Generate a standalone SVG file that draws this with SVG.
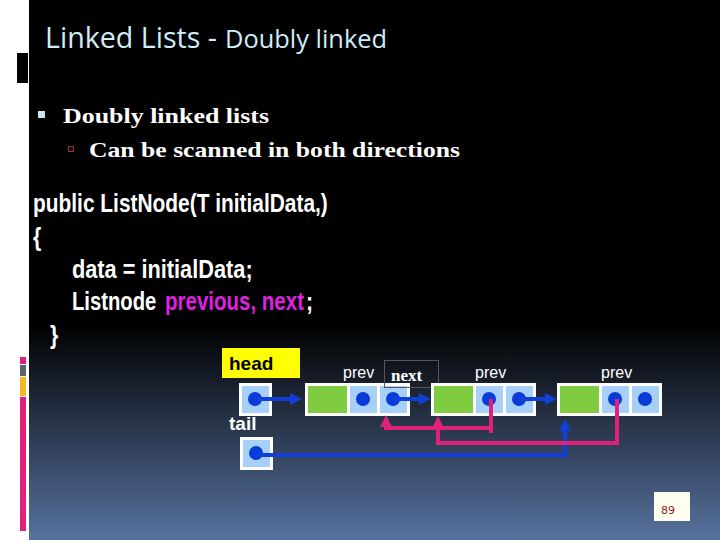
<svg xmlns="http://www.w3.org/2000/svg" width="720" height="540" viewBox="0 0 720 540">
<defs>
<linearGradient id="bg" x1="0" y1="0" x2="0" y2="1">
<stop offset="0" stop-color="#000"/>
<stop offset="0.6" stop-color="#000"/>
<stop offset="1" stop-color="#57729f"/>
</linearGradient>
<marker id="ab" viewBox="0 0 12 12" refX="3" refY="6" markerWidth="12" markerHeight="12" markerUnits="userSpaceOnUse" orient="auto"><path d="M0,0 L12,6 L0,12z" fill="#1040d8"/></marker>
<marker id="ap" viewBox="0 0 12 12" refX="3" refY="6" markerWidth="12" markerHeight="12" markerUnits="userSpaceOnUse" orient="auto"><path d="M0,0 L12,6 L0,12z" fill="#e0207a"/></marker>
</defs>
<style>
.frame{fill:#fff}
.green{fill:#80cc40}
.cell{fill:#a6d0f8}
.dot{fill:#0a3ad8}
.blue{stroke:#1040d8;stroke-width:4;fill:none}
.pink{stroke:#e0207a;stroke-width:4;fill:none}
.lbl{font-family:"Liberation Sans",Arial,sans-serif;fill:#fff}
.code{font-family:"Liberation Sans",Arial,sans-serif;font-weight:bold;font-size:25px;fill:#fff}
</style>
<rect x="0" y="0" width="720" height="540" fill="#fff"/>
<rect x="29" y="0" width="691" height="540" fill="url(#bg)"/>
<rect x="17" y="53" width="11" height="30" fill="#000"/>
<rect x="20" y="357" width="6" height="7" fill="#e0207a"/>
<rect x="20" y="365" width="6" height="11" fill="#5a6470"/>
<rect x="20" y="377" width="6" height="19" fill="#f5b820"/>
<rect x="20" y="397" width="6" height="134" fill="#e0207a"/>

<g id="title">
<text x="45" y="48" font-family="'Open Sans',sans-serif" fill="#d0ecf8"><tspan font-size="29" textLength="172" lengthAdjust="spacingAndGlyphs">Linked Lists -</tspan><tspan x="225" font-size="25" textLength="162" lengthAdjust="spacingAndGlyphs">Doubly linked</tspan></text>
</g>
<g id="bullets">
<rect x="38" y="111" width="7" height="7" fill="#c8e4f4"/>
<text x="63" y="123" font-family="'Liberation Serif',serif" font-weight="bold" font-size="21" fill="#fff" textLength="206" lengthAdjust="spacingAndGlyphs">Doubly linked lists</text>
<rect x="68.5" y="146.5" width="5" height="5" fill="none" stroke="#a03050" stroke-width="1"/>
<text x="89" y="157" font-family="'Liberation Serif',serif" font-weight="bold" font-size="21" fill="#fff" textLength="371" lengthAdjust="spacingAndGlyphs">Can be scanned in both directions</text>
</g>
<g id="code">
<text class="code" transform="translate(33,212) scale(0.836,1)">public ListNode(T initialData,)</text>
<text class="code" transform="translate(33,246) scale(0.85,1)">{</text>
<text class="code" transform="translate(72,278) scale(0.87,1)">data = initialData;</text>
<text class="code" transform="translate(72,310) scale(0.81,1)">Listnode</text>
<text class="code" transform="translate(165,310) scale(0.82,1)" style="fill:#e020e0">previous, next</text>
<text class="code" transform="translate(306,310) scale(0.85,1)">;</text>
<text class="code" transform="translate(50,344) scale(0.85,1)">}</text>
</g>

<g id="head-label">
<rect x="222" y="348" width="78" height="30" fill="#ffff00"/>
<text x="229" y="370" font-family="'Liberation Sans',Arial,sans-serif" font-weight="bold" font-size="19" fill="#000">head</text>
</g>
<g id="tail-label">
<text class="lbl" x="229" y="430" font-weight="bold" font-size="19">tail</text>
</g>
<g id="head">
<rect class="frame" x="239" y="383" width="33" height="33"/>
<rect class="cell" x="242" y="386" width="27" height="27"/>
<circle class="dot" cx="255" cy="399" r="7"/>
</g>
<g id="tail">
<rect class="frame" x="240" y="437" width="33" height="33"/>
<rect class="cell" x="243" y="440" width="27" height="27"/>
<circle class="dot" cx="256" cy="453" r="7"/>
</g>
<g id="node1">
<rect class="frame" x="305" y="383" width="105" height="33"/>
<rect class="green" x="308" y="386" width="39" height="27"/>
<rect class="cell" x="350" y="386" width="27" height="27"/>
<rect class="cell" x="380" y="386" width="27" height="27"/>
<circle class="dot" cx="363" cy="399" r="7"/>
<circle class="dot" cx="393" cy="399" r="7"/>
<text class="lbl" x="343" y="378" font-size="16">prev</text>
</g>
<g id="next-label">
<rect x="384.5" y="360.5" width="54" height="27" fill="none" stroke="#555" stroke-width="1"/>
<text x="391" y="381" font-family="'Liberation Serif',serif" font-weight="bold" font-size="17" fill="#fff">next</text>
</g>
<g id="node2">
<rect class="frame" x="431" y="383" width="105" height="33"/>
<rect class="green" x="434" y="386" width="39" height="27"/>
<rect class="cell" x="476" y="386" width="27" height="27"/>
<rect class="cell" x="506" y="386" width="27" height="27"/>
<circle class="dot" cx="489" cy="399" r="7"/>
<circle class="dot" cx="519" cy="399" r="7"/>
<text class="lbl" x="475" y="378" font-size="16">prev</text>
</g>
<g id="node3">
<rect class="frame" x="557" y="383" width="105" height="33"/>
<rect class="green" x="560" y="386" width="39" height="27"/>
<rect class="cell" x="602" y="386" width="27" height="27"/>
<rect class="cell" x="632" y="386" width="27" height="27"/>
<circle class="dot" cx="615" cy="399" r="7"/>
<circle class="dot" cx="645" cy="399" r="7"/>
<text class="lbl" x="601" y="378" font-size="16">prev</text>
</g>

<g id="connectors">
<path class="blue" d="M255,399 H293" marker-end="url(#ab)"/>
<path class="blue" d="M393,399 H422" marker-end="url(#ab)"/>
<path class="blue" d="M519,399 H548" marker-end="url(#ab)"/>
<path class="blue" d="M256,455 H565 V428" marker-end="url(#ab)"/>
<path class="pink" d="M491,399 V433"/>
<path class="pink" d="M491,428 H386 V424" marker-end="url(#ap)"/>
<path class="pink" d="M617,399 V443 H438 V425" marker-end="url(#ap)"/>
</g>

<g id="page">
<rect x="654" y="492" width="36" height="29" fill="#fffff0"/>
<text x="661" y="514" font-family="'DejaVu Sans',sans-serif" font-size="11" fill="#8b1a1a">89</text>
</g>
</svg>
